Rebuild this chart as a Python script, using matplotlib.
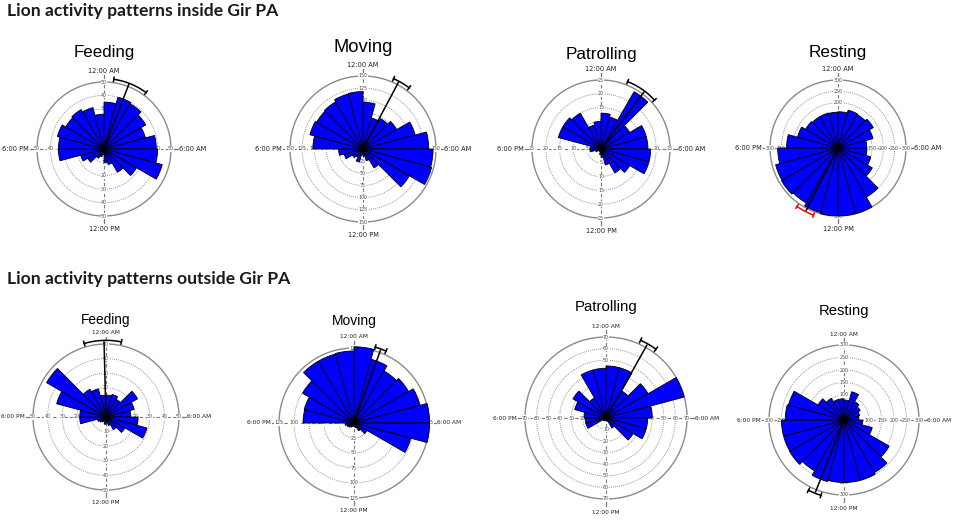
import numpy as np
import matplotlib
matplotlib.use("Agg")
import matplotlib.pyplot as plt

W, H = 957, 521
hours = list(range(24))  # bin k covers hour k .. k+1

# ---- data: counts per hour of day ----
in_feeding = [35, 40, 39, 36, 32, 39, 40, 45, 28, 20, 12, 10, 4, 6, 8, 14, 18, 34, 34, 36, 33, 34, 32, 26]
in_moving = [96, 66, 72, 80, 111, 135, 144, 146, 110, 45, 25, 15, 12, 28, 20, 25, 40, 50, 103, 113, 110, 112, 117, 118]
in_patrolling = [13, 12, 24, 12, 17, 17, 18, 18, 12, 10, 6, 3, 2, 1, 1, 1, 2, 4, 4, 16, 16, 15, 9, 10]
in_resting = [160, 173, 170, 180, 160, 127, 128, 150, 175, 250, 300, 300, 300, 295, 280, 288, 285, 266, 227, 185, 165, 160, 160, 158]

out_feeding = [15, 16, 14, 25, 20, 17, 22, 29, 15, 10, 6, 4, 5, 3, 4, 5, 6, 18, 18, 35, 47, 22, 20, 15]
out_moving = [127, 110, 100, 105, 114, 126, 126, 98, 25, 15, 8, 6, 5, 6, 8, 10, 12, 15, 85, 86, 99, 119, 119, 120]
out_patrolling = [45, 45, 27, 42, 70, 40, 36, 36, 27, 10, 3, 2, 2, 2, 3, 3, 18, 18, 19, 28, 33, 20, 43, 43]
out_resting = [80, 117, 85, 75, 65, 60, 75, 117, 209, 243, 250, 250, 250, 255, 235, 251, 250, 250, 235, 230, 120, 100, 85, 85]

titles = ["Feeding", "Moving", "Patrolling", "Resting"]
section_titles = ["Lion activity patterns inside Gir PA", "Lion activity patterns outside Gir PA"]
clock_labels = ["12:00 AM", "6:00 AM", "12:00 PM", "6:00 PM"]

# radial scale: ring step and outer circle value per panel
in_ring_step = [10, 25, 5, 50]
in_outer = [50, 150, 25, 300]
out_ring_step = [10, 25, 10, 50]
out_outer = [50, 125, 70, 300]

# mean direction (deg, clockwise from midnight) and its confidence interval
in_mean = [21, 28, 37, 207]
in_ci_low = [8, 23.5, 21.6, 200]
in_ci_high = [36.7, 37, 47.6, 215]
out_mean = [358.5, 20, 29.3, 201.6]
out_ci_low = [343.5, 15.7, 24, 197]
out_ci_high = [11.6, 24, 36, 206.8]

# ---- layout (pixels) ----
in_centers = [(104, 149, 67), (363, 149, 73), (601, 149, 69), (838, 148, 68)]
out_centers = [(106, 417, 73), (354, 423, 75), (606, 418, 81), (844, 420, 75)]
in_title_y = [53, 48, 54, 53]
out_title_y = [320, 321, 307, 311]
in_title_size = [12.2, 13.2, 12.3, 12.3]
out_title_size = [9.8, 10.0, 10.8, 10.7]

fig = plt.figure(figsize=(W / 100, H / 100), dpi=100)
fig.patch.set_facecolor("white")

for i, t in enumerate(section_titles):
    fig.text(7 / W, 1 - (11 if i == 0 else 279) / H, t, family="Lato",
             fontweight="bold", fontsize=12.6, ha="left", va="center", color="#1a1a1a")


def fx(x):
    return x / W


def fy(y):
    return 1 - y / H


def panel(center, vals, step, outer, title, ty, tsize, mean, lo, hi, arc_color, lsize):
    cx, cy, R = center
    ax = fig.add_axes([(cx - R) / W, 1 - (cy + R) / H, 2 * R / W, 2 * R / H],
                      projection="polar")
    ax.set_theta_zero_location("N")
    ax.set_theta_direction(-1)
    ax.set_ylim(0, outer)
    ax.grid(False)
    ax.set_xticks([])
    ax.set_yticks([])
    ax.spines["polar"].set_visible(False)
    ax.patch.set_visible(False)

    th = np.linspace(0, 2 * np.pi, 400)
    ax.plot(th, np.full_like(th, outer), color="#8a8a8a", lw=1.0, clip_on=False, zorder=1)
    rings = np.arange(step, outer, step)
    for r in rings:
        ax.plot(th, np.full_like(th, r), color="#8a8a8a", lw=0.6,
                ls=(0, (1.2, 1.2)), clip_on=False, zorder=1)
    tick_out = outer * (1 + 7.0 / R)
    for a in [0, 90, 180, 270]:
        ar = np.deg2rad(a)
        ax.plot([ar, ar], [0, outer], color="#777777", lw=0.8,
                ls=(0, (3, 2)), clip_on=False, zorder=1)
        ax.plot([ar, ar], [outer, tick_out], color="#777777", lw=0.9,
                clip_on=False, zorder=1)
        for r in list(rings) + [outer]:
            ax.text(ar, r, f"{int(r)}", ha="center", va="center", fontsize=3.4,
                    color="#444444", clip_on=False, zorder=1.5,
                    bbox=dict(boxstyle="square,pad=0.05", fc="white", ec="none"))
    fig.text(fx(cx), fy(cy - R - 11), clock_labels[0], ha="center", va="center",
             fontsize=lsize, color="#222222")
    fig.text(fx(cx), fy(cy + R + 13), clock_labels[2], ha="center", va="center",
             fontsize=lsize, color="#222222")
    fig.text(fx(cx + R + 8), fy(cy), clock_labels[1], ha="left", va="center",
             fontsize=lsize, color="#222222")
    fig.text(fx(cx - R - 8), fy(cy), clock_labels[3], ha="right", va="center",
             fontsize=lsize, color="#222222")

    theta = np.deg2rad(np.array(hours) * 15.0)
    ax.bar(theta, vals, width=np.deg2rad(15), align="edge", color="#0000FF",
           edgecolor="black", linewidth=0.6, zorder=2, clip_on=False)

    ci_r = outer * 1.05
    m = np.deg2rad(mean)
    ax.plot([m, m], [0, ci_r * 0.98], color="black", lw=1.1, zorder=3, clip_on=False)
    if hi < lo:
        hi = hi + 360
    arc = np.deg2rad(np.linspace(lo, hi, 60))
    ax.plot(arc, np.full_like(arc, ci_r), color=arc_color, lw=1.1, zorder=3, clip_on=False)
    for e in (lo, hi):
        ax.plot([np.deg2rad(e)] * 2, [ci_r * 0.97, ci_r * 1.03], color=arc_color,
                lw=1.1, zorder=3, clip_on=False)

    fig.text(fx(cx), fy(ty), title, ha="center", va="center",
             fontsize=tsize, family="Liberation Sans", color="black")


in_vals = [in_feeding, in_moving, in_patrolling, in_resting]
out_vals = [out_feeding, out_moving, out_patrolling, out_resting]
for j in range(4):
    panel(in_centers[j], in_vals[j], in_ring_step[j], in_outer[j], titles[j], in_title_y[j],
          in_title_size[j], in_mean[j], in_ci_low[j], in_ci_high[j],
          "red" if j == 3 else "black", 4.8)
    panel(out_centers[j], out_vals[j], out_ring_step[j], out_outer[j], titles[j], out_title_y[j],
          out_title_size[j], out_mean[j], out_ci_low[j], out_ci_high[j], "black", 4.2)

fig.savefig("out.png", dpi=100)
